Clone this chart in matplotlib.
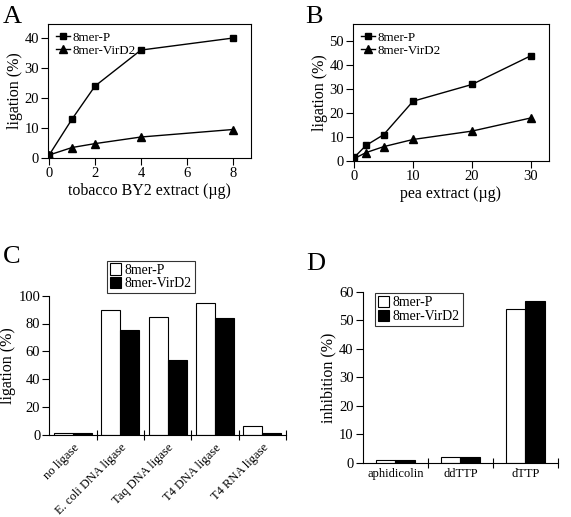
import matplotlib
matplotlib.use("Agg")
import matplotlib.pyplot as plt
import matplotlib.transforms as mtransforms
import numpy as np

plt.rcParams['font.family'] = ['Liberation Serif', 'DejaVu Serif']

# Panel A data
a_x = [0, 1, 2, 4, 8]
a_p = [1, 13, 24, 36, 40]
a_v = [1, 3.5, 4.8, 7, 9.5]
# Panel B data
b_x = [0, 2, 5, 10, 20, 30]
b_p = [1.5, 6.5, 11, 25, 32, 44]
b_v = [1, 3.5, 6, 9, 12.5, 18]
# Panel C data
c_cats = ['no ligase', 'E. coli DNA ligase', 'Taq DNA ligase', 'T4 DNA ligase', 'T4 RNA ligase']
c_p = [1.5, 90, 85, 95, 6.5]
c_v = [1.5, 75, 54, 84, 1.2]
# Panel D data
d_cats = ['aphidicolin', 'ddTTP', 'dTTP']
d_p = [1, 2, 54]
d_v = [1, 2, 57]

series_names = ['8mer-P', '8mer-VirD2']

W, H = 571, 517
fig = plt.figure(figsize=(W / 100, H / 100), dpi=100)

def ax_px(left, right, top, bottom):
    return fig.add_axes([left / W, (H - bottom) / H, (right - left) / W, (bottom - top) / H])

TICK = 10.5
LAB = 11.5
LEG = 9.9

def line_panel(ax, x, p, v, xlim, ylim, xticks, yticks, xlabel):
    ax.plot(x, p, '-s', color='black', lw=1, ms=4.5, label=series_names[0])
    ax.plot(x, v, '-^', color='black', lw=1, ms=5.5, label=series_names[1])
    ax.set_xlim(*xlim)
    ax.set_ylim(*ylim)
    ax.set_xticks(xticks)
    ax.set_yticks(yticks)
    ax.tick_params(direction='out', length=5, width=0.8, labelsize=TICK, top=False, right=False, pad=1.5)
    for s in ax.spines.values():
        s.set_linewidth(0.8)
    ax.set_xlabel(xlabel, fontsize=LAB, labelpad=2)
    ax.set_ylabel('ligation (%)', fontsize=LAB, labelpad=1)
    ax.legend(loc='upper left', frameon=False, fontsize=9.4, handlelength=1.1,
              handletextpad=0.15, labelspacing=0.05, borderaxespad=0.3, borderpad=0.3)

axA = ax_px(48, 251, 24, 158)
line_panel(axA, a_x, a_p, a_v, (-0.05, 8.8), (0, 44.7), [0, 2, 4, 6, 8], [0, 10, 20, 30, 40],
           'tobacco BY2 extract (\u00b5g)')

axB = ax_px(353, 549, 24, 161)
line_panel(axB, b_x, b_p, b_v, (-0.2, 33.1), (0, 57.3), [0, 10, 20, 30], [0, 10, 20, 30, 40, 50],
           'pea extract (\u00b5g)')

def bar_panel(ax, cats, p, v, width, ylim, yticks, ylabel):
    x = np.arange(len(cats))
    ax.bar(x - width / 2, p, width, color='white', edgecolor='black', lw=0.8, label=series_names[0])
    ax.bar(x + width / 2, v, width, color='black', edgecolor='black', lw=0.8, label=series_names[1])
    ax.set_xlim(-0.5, len(cats) - 0.5)
    ax.set_ylim(*ylim)
    ax.set_yticks(yticks)
    ax.spines['top'].set_visible(False)
    ax.spines['right'].set_visible(False)
    for s in ax.spines.values():
        s.set_linewidth(0.8)
    ax.set_xticks(np.arange(len(cats)) + 0.5)
    ax.set_xticklabels([])
    ax.set_xticks(x, minor=True)
    ax.tick_params(axis='x', which='major', direction='inout', length=7, width=0.8)
    ax.tick_params(axis='x', which='minor', length=0, labelsize=TICK)
    ax.set_xticklabels(cats, minor=True)
    ax.tick_params(axis='y', direction='out', length=5, width=0.8, labelsize=TICK, pad=1.5)
    ax.set_ylabel(ylabel, fontsize=LAB, labelpad=2)
    return ax

axC = ax_px(49.3, 286, 295.7, 434.7)
bar_panel(axC, c_cats, c_p, c_v, 0.4, (0, 100), [0, 20, 40, 60, 80, 100], 'ligation (%)')
offset = mtransforms.ScaledTranslation(7 / 100, 0, fig.dpi_scale_trans)
for lab in axC.get_xticklabels(minor=True):
    lab.set_rotation(45)
    lab.set_ha('right')
    lab.set_rotation_mode('anchor')
    lab.set_fontsize(9.0)
    lab.set_transform(lab.get_transform() + offset)
axC.tick_params(axis='x', which='minor', pad=5)
legC = axC.legend(loc='lower left', bbox_to_anchor=((107 - 49.3) / 236.7, 1.02),
                  frameon=True, fancybox=False, edgecolor='black', fontsize=LEG, handlelength=0.8,
                  handleheight=0.9, handletextpad=0.3, labelspacing=0.0, borderpad=0.2, borderaxespad=0)
legC.get_frame().set_linewidth(0.8)

axD = ax_px(362.7, 558, 292, 462.7)
bar_panel(axD, d_cats, d_p, d_v, 0.3, (0, 60), [0, 10, 20, 30, 40, 50, 60], 'inhibition (%)')
axD.tick_params(axis='x', which='minor', labelsize=9.0, pad=4)
legD = axD.legend(loc='upper left', bbox_to_anchor=((375 - 362.7) / 195.3, 1 - (293 - 292) / 170.7),
                  frameon=True, fancybox=False, edgecolor='black', fontsize=LEG, handlelength=0.8,
                  handleheight=0.9, handletextpad=0.3, labelspacing=0.05, borderpad=0.2, borderaxespad=0)
legD.get_frame().set_linewidth(0.8)

for lbl, (px, py) in zip('ABCD', [(3, 23), (305, 23), (3, 263), (306, 270)]):
    fig.text(px / W, (H - py) / H, lbl, fontsize=19, ha='left', va='baseline')

fig.savefig('out.png', dpi=100)
